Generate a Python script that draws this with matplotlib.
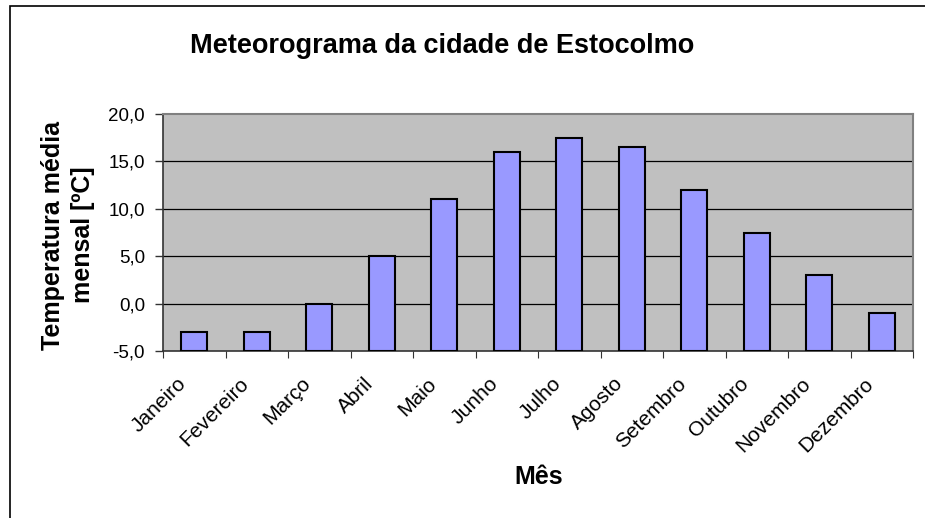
import matplotlib.pyplot as plt
from matplotlib.patches import Rectangle
from matplotlib.ticker import FixedLocator, FuncFormatter, NullFormatter
from matplotlib.transforms import ScaledTranslation

plt.rcParams['font.family'] = ['Liberation Sans', 'DejaVu Sans']

meses = ['Janeiro', 'Fevereiro', 'Março', 'Abril', 'Maio', 'Junho', 'Julho',
         'Agosto', 'Setembro', 'Outubro', 'Novembro', 'Dezembro']
temperatura = [-3, -3, 0, 5, 11, 16, 17.5, 16.5, 12, 7.5, 3, -1]
y_ticks = [-5, 0, 5, 10, 15, 20]

fig = plt.figure(figsize=(9.25, 5.18), dpi=100)
fig.patch.set_facecolor('white')

# chart border (only left/top fall inside the picture)
fig.patches.append(Rectangle((10 / 925, -0.1), 1.2, 1 - 6 / 518 + 0.1,
                             transform=fig.transFigure, fill=False,
                             edgecolor='black', linewidth=1.2))

ax = fig.add_axes([163 / 925, 1 - 351 / 518, 750 / 925, 237 / 518])
ax.set_facecolor('#c0c0c0')

x = range(len(meses))
base = y_ticks[0]
ax.bar(x, [t - base for t in temperatura], bottom=base, width=0.42,
       color='#9999ff', edgecolor='black', linewidth=1.5, zorder=3)

ax.set_xlim(-0.5, len(meses) - 0.5)
ax.set_ylim(y_ticks[0], y_ticks[-1])
ax.set_yticks(y_ticks)
ax.yaxis.set_major_formatter(FuncFormatter(lambda v, p: f'{v:.1f}'.replace('.', ',')))
for v in y_ticks[1:-1]:
    ax.axhline(v, color='black', linewidth=0.9, zorder=1)

# ticks at category boundaries, labels drawn separately (Excel style)
ax.xaxis.set_major_locator(FixedLocator([i - 0.5 for i in range(len(meses) + 1)]))
ax.xaxis.set_major_formatter(NullFormatter())
shift = ScaledTranslation(-18 / 100, -23 / 100, fig.dpi_scale_trans)
for i, m in enumerate(meses):
    ax.text(i, 0, m, transform=ax.get_xaxis_transform() + shift,
            rotation=45, ha='right', va='top', rotation_mode='anchor',
            fontsize=15)

ax.tick_params(axis='x', length=5, direction='out', color='#333333')
ax.tick_params(axis='y', length=6, width=1, pad=7, direction='out',
               labelsize=13.5, color='#333333')

for s in ['top', 'right']:
    ax.spines[s].set_color('#808080')
    ax.spines[s].set_linewidth(1.5)
for s in ['left', 'bottom']:
    ax.spines[s].set_color('#333333')
    ax.spines[s].set_linewidth(1.2)

fig.text(442 / 925, 1 - 46 / 518, 'Meteorograma da cidade de Estocolmo',
         ha='center', va='center', fontsize=19.5, fontweight='bold')
fig.text(539 / 925, 1 - 477 / 518, 'Mês', ha='center', va='center',
         fontsize=18, fontweight='bold')
fig.text(68 / 925, 1 - 235 / 518, 'Temperatura média\nmensal [ºC]',
         ha='center', va='center', rotation=90, multialignment='center',
         fontsize=18, fontweight='bold', linespacing=1.3)

fig.savefig('out.png', dpi=100)
